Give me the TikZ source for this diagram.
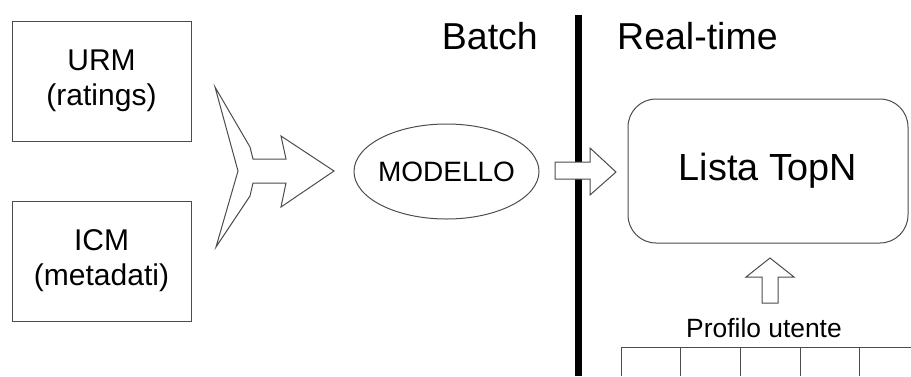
\documentclass[tikz,border=0pt]{standalone}
\usepackage{fontspec}
\setmainfont{Liberation Sans}
\usetikzlibrary{shapes.geometric}
\begin{document}
\begin{tikzpicture}[x=1pt,y=-1pt,
  thin line/.style={draw=black!70,line width=1pt},
  srcbox/.style={thin line,minimum width=179pt,minimum height=120pt,inner sep=0pt,
     align=center,font=\fontsize{30}{35}\selectfont},
  bigtitle/.style={font=\fontsize{37.5}{44}\selectfont,inner sep=0pt},
  cell/.style={thin line}]
\useasboundingbox (0,0) rectangle (911,376);

% input matrices
\node[srcbox] (urm) at (101.5,81) {URM\\(ratings)};
\node[srcbox] (icm) at (101.5,261) {ICM\\(metadati)};

% merging arrow feeding the model
\draw[thin line,fill=white] (215,87) -- (250,147) -- (253,159) -- (286,159) -- (281,136)
  -- (334,171) -- (281,207) -- (286,183) -- (253,183) -- (250,196) -- (216,247)
  -- (238,171) -- cycle;

% model
\node[thin line,ellipse,minimum width=185pt,minimum height=95pt,inner sep=0pt]
  (model) at (446.5,171.5) {};
\node[font=\fontsize{28}{34}\selectfont,inner sep=0pt] (modeltext) at (model.center) {MODELLO};

% section titles
\node[bigtitle,anchor=base east] (batch) at (538,49) {Batch};
\node[bigtitle,anchor=base west] (rt) at (617,49) {Real-time};

% separator between batch and real-time
\draw[line width=7pt,black] (578.5,15) -- (578.5,376);

% arrow from model to the list
\draw[thin line,fill=white] (555,162) -- (590,162) -- (590,148) -- (616,172)
  -- (590,195) -- (590,179) -- (555,179) -- cycle;

% top-N list
\node[thin line,rounded corners=28pt,minimum width=280pt,minimum height=144pt,
  font=\fontsize{37.8}{44}\selectfont] (topn) at (768,171) {Lista TopN};

% arrow from the profile to the list
\draw[thin line,fill=white] (770,258) -- (794,277) -- (778,277) -- (778,303)
  -- (762,303) -- (762,277) -- (746,277) -- cycle;

% user profile
\node[font=\fontsize{26.4}{30}\selectfont,inner sep=0pt] (prof) at (764,328) {Profilo utente};
\draw[cell] (621,376) -- (621,347) -- (920,347);
\foreach \cx in {680,740,800,859} \draw[cell] (\cx,347) -- (\cx,376);
\end{tikzpicture}
\end{document}
